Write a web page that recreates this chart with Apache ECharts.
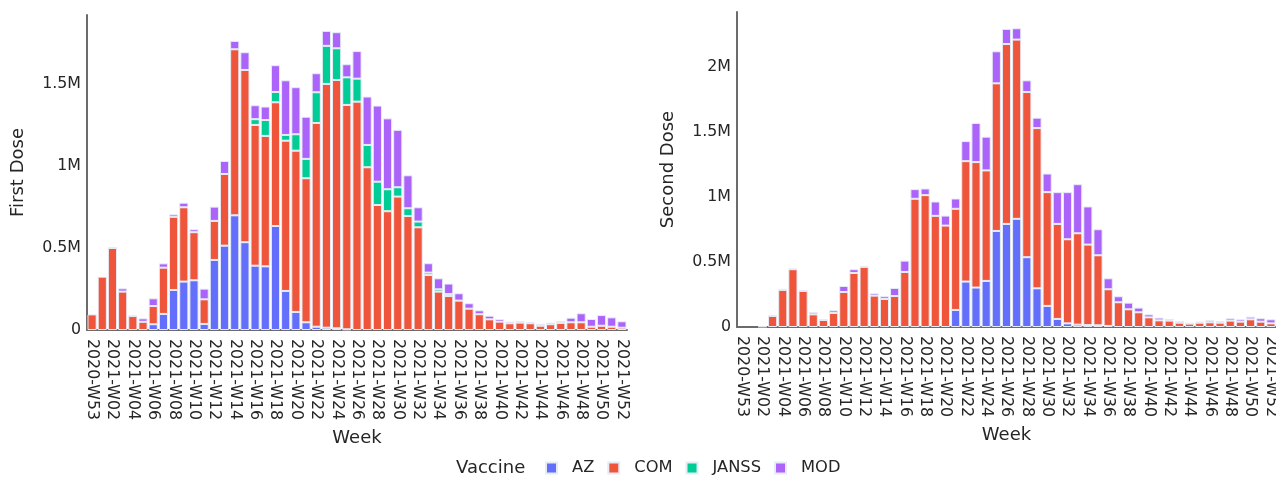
<!DOCTYPE html>
<html>
<head>
<meta charset="utf-8">
<title>Weekly vaccine doses</title>
<script src="https://cdn.jsdelivr.net/npm/echarts@6/dist/echarts.min.js"></script>
<style>
  html, body { margin: 0; padding: 0; background: #ffffff; }
  #chart { width: 1276px; height: 479px; }
</style>
</head>
<body>
<div id="chart"></div>
<script>
// ISO weeks on the category axis
const weeks = [
  '2020-W53', '2021-W01', '2021-W02', '2021-W03', '2021-W04', '2021-W05', '2021-W06', '2021-W07',
  '2021-W08', '2021-W09', '2021-W10', '2021-W11', '2021-W12', '2021-W13', '2021-W14', '2021-W15',
  '2021-W16', '2021-W17', '2021-W18', '2021-W19', '2021-W20', '2021-W21', '2021-W22', '2021-W23',
  '2021-W24', '2021-W25', '2021-W26', '2021-W27', '2021-W28', '2021-W29', '2021-W30', '2021-W31',
  '2021-W32', '2021-W33', '2021-W34', '2021-W35', '2021-W36', '2021-W37', '2021-W38', '2021-W39',
  '2021-W40', '2021-W41', '2021-W42', '2021-W43', '2021-W44', '2021-W45', '2021-W46', '2021-W47',
  '2021-W48', '2021-W49', '2021-W50', '2021-W51', '2021-W52'
];

const vaccines = ['AZ', 'COM', 'JANSS', 'MOD'];

// First dose, millions per week
const firstAZ = [
  0, 0, 0, 0, 0, 0, 0.035, 0.098, 0.244, 0.295, 0.303, 0.037, 0.427, 0.514, 0.699, 0.535,
  0.392, 0.388, 0.634, 0.238, 0.110, 0.047, 0.020, 0.014, 0.010, 0.004, 0, 0, 0, 0, 0, 0,
  0, 0, 0, 0, 0, 0, 0, 0, 0, 0, 0, 0, 0, 0, 0, 0, 0, 0, 0, 0, 0
];
const firstCOM = [
  0.095, 0.325, 0.500, 0.234, 0.085, 0.050, 0.111, 0.282, 0.446, 0.453, 0.293, 0.150, 0.238, 0.437, 1.012, 1.050,
  0.858, 0.795, 0.754, 0.916, 0.983, 0.878, 1.242, 1.486, 1.514, 1.368, 1.392, 0.992, 0.762, 0.724, 0.813, 0.695,
  0.626, 0.335, 0.234, 0.207, 0.179, 0.130, 0.096, 0.065, 0.051, 0.041, 0.045, 0.041, 0.026, 0.035, 0.043, 0.047,
  0.047, 0.020, 0.026, 0.020, 0.014
];
const firstJANSS = [
  0, 0, 0, 0, 0, 0, 0, 0, 0, 0, 0, 0, 0, 0, 0, 0,
  0.035, 0.097, 0.063, 0.035, 0.100, 0.118, 0.187, 0.232, 0.193, 0.168, 0.140, 0.136, 0.142, 0.134, 0.057, 0.047,
  0.035, 0.015, 0.014, 0.012, 0, 0, 0, 0, 0, 0, 0, 0, 0, 0, 0, 0, 0, 0, 0, 0, 0
];
const firstMOD = [
  0, 0, 0.006, 0.020, 0.003, 0.021, 0.047, 0.026, 0.015, 0.028, 0.018, 0.065, 0.087, 0.079, 0.051, 0.108,
  0.085, 0.082, 0.163, 0.333, 0.287, 0.257, 0.116, 0.091, 0.098, 0.080, 0.168, 0.295, 0.464, 0.432, 0.350, 0.201,
  0.087, 0.057, 0.067, 0.064, 0.045, 0.033, 0.024, 0.022, 0.016, 0.010, 0.010, 0.008, 0.011, 0.010, 0.012, 0.028,
  0.055, 0.047, 0.065, 0.057, 0.039
];

// Second dose, millions per week
const secondAZ = [
  0, 0, 0, 0, 0, 0, 0, 0, 0, 0, 0, 0, 0, 0, 0, 0,
  0, 0, 0, 0, 0, 0.131, 0.349, 0.303, 0.354, 0.738, 0.792, 0.831, 0.536, 0.297, 0.162, 0.062,
  0.028, 0.018, 0.015, 0.013, 0.008, 0, 0, 0, 0, 0, 0, 0, 0, 0, 0, 0, 0, 0, 0, 0, 0
];
const secondCOM = [
  0, 0, 0.004, 0.085, 0.285, 0.444, 0.277, 0.097, 0.054, 0.108, 0.269, 0.415, 0.462, 0.241, 0.215, 0.238,
  0.423, 0.985, 1.013, 0.854, 0.779, 0.777, 0.925, 0.964, 0.849, 1.134, 1.382, 1.377, 1.269, 1.231, 0.874, 0.730,
  0.646, 0.702, 0.618, 0.538, 0.282, 0.190, 0.136, 0.113, 0.074, 0.051, 0.049, 0.033, 0.026, 0.033, 0.036, 0.033,
  0.049, 0.041, 0.059, 0.041, 0.028
];
const secondJANSS = [
  0, 0, 0, 0, 0, 0, 0, 0, 0, 0, 0, 0, 0, 0, 0, 0,
  0, 0, 0, 0, 0, 0, 0, 0, 0, 0, 0, 0, 0, 0, 0, 0,
  0, 0, 0, 0, 0, 0, 0, 0, 0, 0, 0, 0, 0, 0, 0, 0, 0, 0, 0, 0, 0
];
const secondMOD = [
  0, 0, 0, 0.006, 0.008, 0.004, 0.006, 0.016, 0.005, 0.020, 0.046, 0.029, 0.007, 0.018, 0.021, 0.062,
  0.087, 0.074, 0.051, 0.110, 0.077, 0.079, 0.154, 0.300, 0.259, 0.246, 0.116, 0.087, 0.090, 0.080, 0.143, 0.244,
  0.362, 0.377, 0.293, 0.200, 0.084, 0.046, 0.051, 0.036, 0.023, 0.021, 0.013, 0.013, 0.005, 0.008, 0.015, 0.011,
  0.018, 0.018, 0.020, 0.026, 0.031
];

// y-axis ticks (millions) and their labels
const yTicks = [0, 0.5, 1, 1.5, 2];
const yTickLabels = ['0', '0.5M', '1M', '1.5M', '2M'];

const colors = { AZ: '#636EFA', COM: '#EF553B', JANSS: '#00CC96', MOD: '#AB63FA' };
const textColor = '#262626';
const fontFamily = '"DejaVu Sans", Verdana, sans-serif';

const firstDose = { AZ: firstAZ, COM: firstCOM, JANSS: firstJANSS, MOD: firstMOD };
const secondDose = { AZ: secondAZ, COM: secondCOM, JANSS: secondJANSS, MOD: secondMOD };

function tickLabel(v) {
  const i = yTicks.indexOf(Math.round(v * 10) / 10);
  return i >= 0 ? yTickLabels[i] : '';
}

function xAxis(gridIndex) {
  return {
    type: 'category',
    gridIndex: gridIndex,
    data: weeks,
    boundaryGap: true,
    name: 'Week',
    nameLocation: 'middle',
    nameGap: 99,
    nameTextStyle: { fontSize: 18, color: textColor, fontFamily: fontFamily },
    axisLine: { show: true, lineStyle: { color: '#6b6b6b', width: 2 } },
    axisTick: { show: false },
    splitLine: { show: false },
    axisLabel: {
      rotate: -90,
      interval: 1,
      margin: 9,
      fontSize: 15.8,
      color: textColor,
      fontFamily: fontFamily
    }
  };
}

function yAxis(gridIndex, name, max) {
  return {
    type: 'value',
    gridIndex: gridIndex,
    min: 0,
    max: max,
    interval: 0.5,
    name: name,
    nameLocation: 'middle',
    nameGap: 60,
    nameTextStyle: { fontSize: 18, color: textColor, fontFamily: fontFamily },
    axisLine: { show: true, lineStyle: { color: '#6b6b6b', width: 2 } },
    axisTick: { show: false },
    splitLine: { show: false },
    axisLabel: {
      showMaxLabel: false,
      margin: 6,
      fontSize: 15.8,
      color: textColor,
      fontFamily: fontFamily,
      formatter: tickLabel
    }
  };
}

function barSeries(dose, stack, axisIndex) {
  return vaccines.map(function (v) {
    return {
      name: v,
      type: 'bar',
      stack: stack,
      xAxisIndex: axisIndex,
      yAxisIndex: axisIndex,
      barCategoryGap: '10%',
      itemStyle: { color: colors[v], borderColor: '#E5ECF6', borderWidth: 1 },
      emphasis: { disabled: true },
      data: dose[v].map(function (x) { return x > 0 ? x : null; })
    };
  });
}

const chart = echarts.init(document.getElementById('chart'), null, { renderer: 'canvas' });
chart.setOption({
  animation: false,
  backgroundColor: '#ffffff',
  textStyle: { fontFamily: fontFamily },
  grid: [
    { left: 87, right: 649, top: 15, bottom: 149, outerBoundsMode: 'none' },
    { left: 737, right: 0, top: 12, bottom: 152, outerBoundsMode: 'none' }
  ],
  xAxis: [xAxis(0), xAxis(1)],
  yAxis: [yAxis(0, 'First Dose', 1.92), yAxis(1, 'Second Dose', 2.42)],
  legend: {
    data: vaccines,
    left: 545,
    top: 460,
    padding: 0,
    icon: 'rect',
    itemWidth: 11,
    itemHeight: 11,
    itemGap: 13,
    selectedMode: false,
    textStyle: { fontSize: 16.3, color: textColor, fontFamily: fontFamily, padding: [0, 0, 0, 10] }
  },
  graphic: [
    {
      type: 'text',
      left: 456,
      top: 459,
      style: { text: 'Vaccine', fontSize: 18, fill: textColor, fontFamily: fontFamily }
    }
  ],
  series: barSeries(firstDose, 'first', 0).concat(barSeries(secondDose, 'second', 1))
});
</script>
</body>
</html>
